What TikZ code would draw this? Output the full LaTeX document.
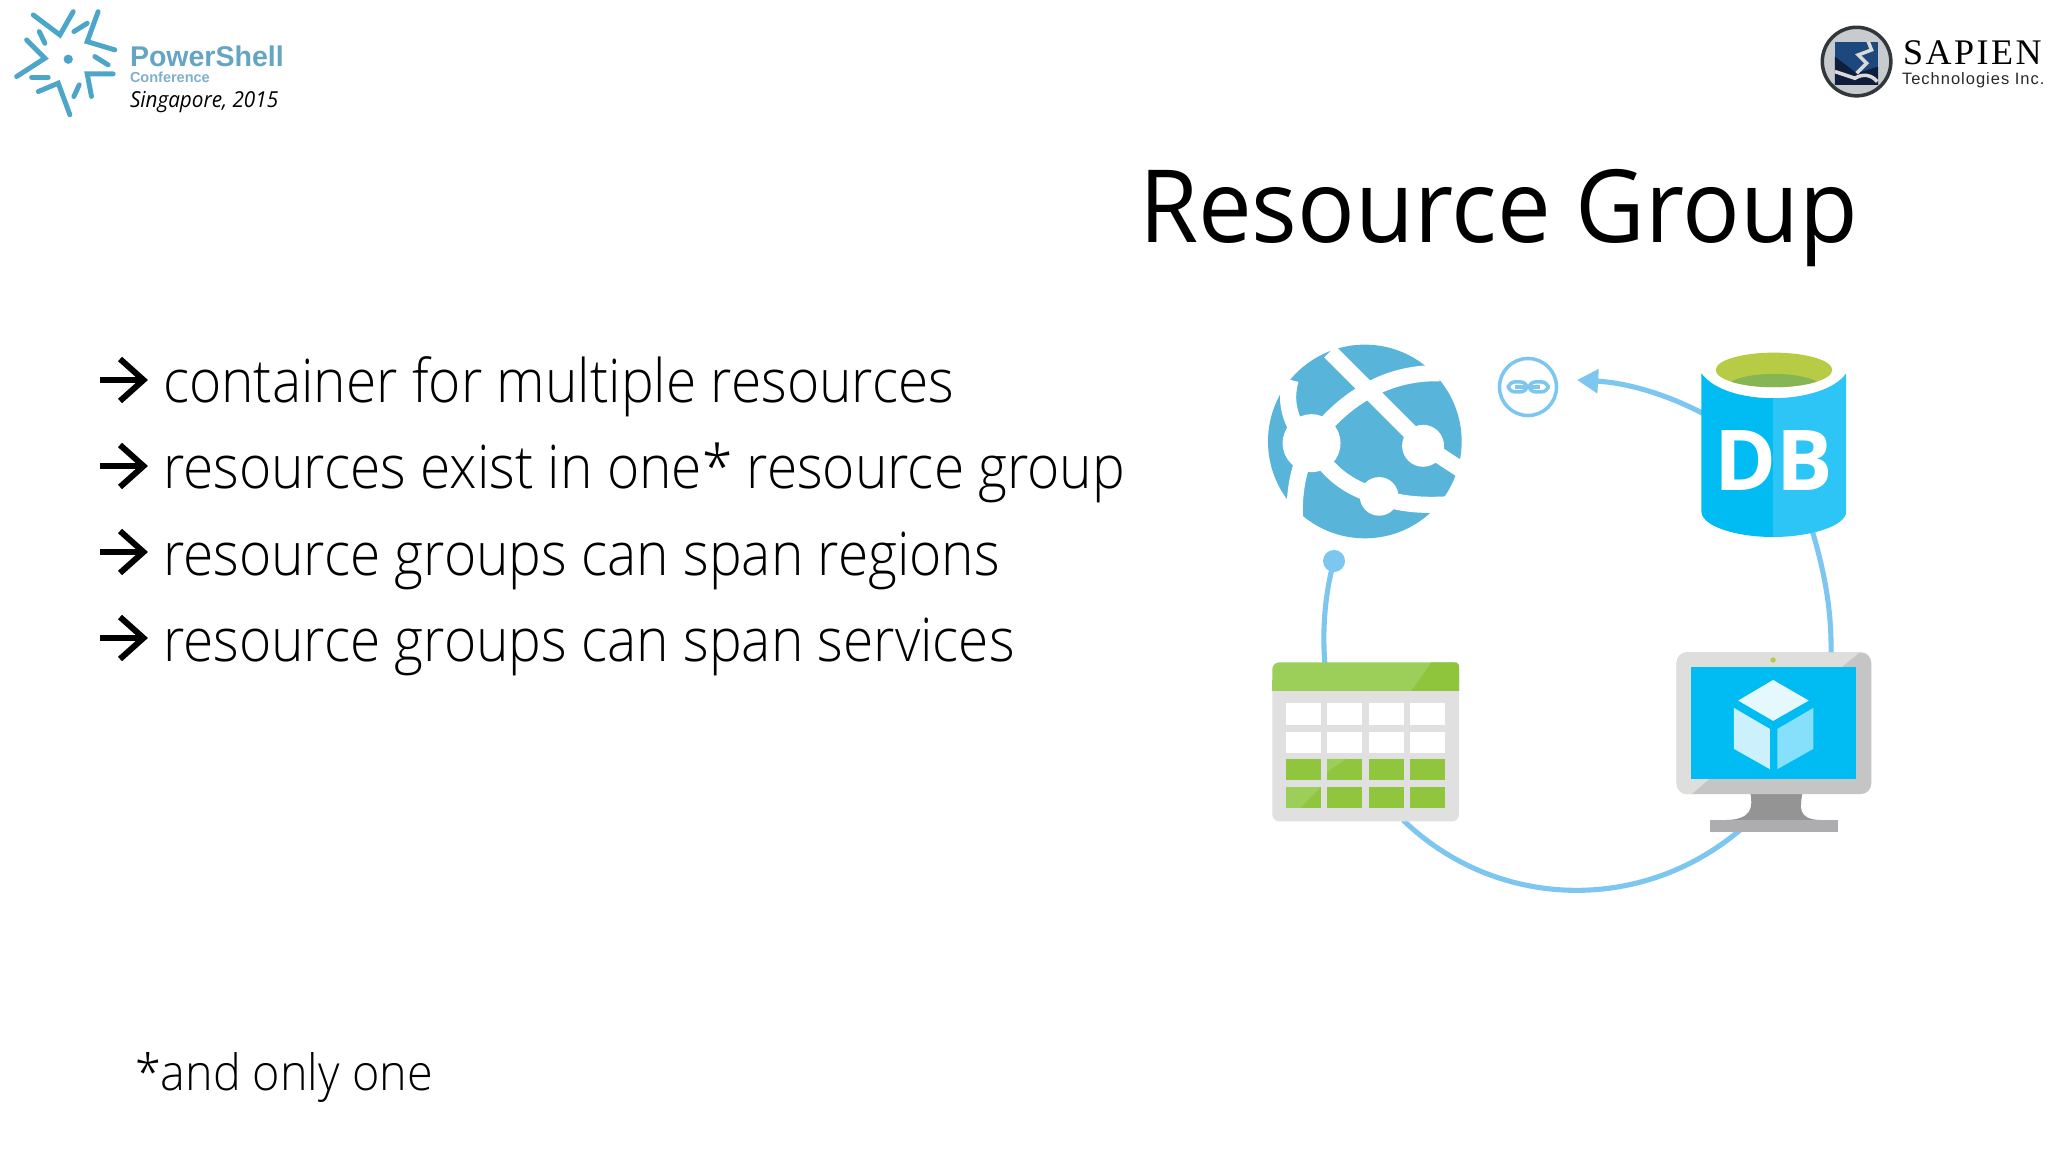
\documentclass[tikz,border=0pt]{standalone}
\usepackage{fontspec}
\usetikzlibrary{arrows.meta}
\setmainfont{Open Sans}
\newfontfamily\lightf{Open Sans Light}[FakeStretch=0.917]
\newfontfamily\footf{Open Sans Light}[FakeStretch=0.934]
\newfontfamily\regf{Open Sans}[FakeStretch=0.948]
\newfontfamily\locf{Open Sans}[FakeStretch=0.94]
\newfontfamily\dbf{Open Sans}
\newfontfamily\arialf{Liberation Sans}
\newfontfamily\serf{Liberation Serif}[LetterSpace=7]
\newfontfamily\techf{Liberation Sans}[LetterSpace=6]
\newcommand{\pxfont}[1]{\fontsize{\the\dimexpr #1pt*2845/10000\relax}{\the\dimexpr #1pt*3/10\relax}\selectfont}
\definecolor{ringc}{HTML}{7CC6F0}
\definecolor{globec}{HTML}{59B4D9}
\definecolor{dbl}{HTML}{00BCF2}
\definecolor{dbr}{HTML}{2CC5F6}
\definecolor{lime}{HTML}{B8CB45}
\definecolor{limed}{HTML}{86B554}
\definecolor{hdrl}{HTML}{9CCE5A}
\definecolor{hdrd}{HTML}{8FC53C}
\definecolor{tbody}{HTML}{E1E0E1}
\definecolor{cellg}{HTML}{8FC63E}
\definecolor{psb}{HTML}{4CA6C8}
\definecolor{mondk}{HTML}{C5C5C5}
\definecolor{monlt}{HTML}{DEDEDD}
\definecolor{neckc}{HTML}{959495}
\definecolor{basec}{HTML}{ADACAE}
\definecolor{cubea}{HTML}{E5F8FE}
\definecolor{cubeb}{HTML}{CDF1FC}
\definecolor{cubec}{HTML}{86DFFB}
\tikzset{
  txt/.style={anchor=base west,inner sep=0pt,outer sep=0pt,text=black},
  ringline/.style={draw=ringc,line width=1.45pt},
  band/.style={draw=white,line width=4.6pt,line cap=butt},
  starline/.style={draw=psb,line width=1.4pt,line cap=round,line join=miter},
  barrow/.style={draw=black,line width=1.7pt,line cap=butt,miter limit=10},
  zoomed/.style={x=0.003333cm,y=-0.003333cm}
}
\begin{document}
\begin{tikzpicture}[x=0.01cm,y=-0.01cm]
\useasboundingbox (0,0) rectangle (2048,1152);
\fill[white] (0,0) rectangle (2048,1152);

% connector end points
\coordinate (tipA) at (1577,380);
\coordinate (dbW) at (1704,414);
\coordinate (dbS) at (1812,530);
\coordinate (vmN) at (1831,655);
\coordinate (vmS) at (1740,830);
\coordinate (tabS) at (1403,820);
\coordinate (tabN) at (1325,665);
\coordinate (dotc) at (1334,561);

% connectors
\draw[ringline,-{Triangle[length=6pt,width=6.6pt]}] (dbW) .. controls (1670,396) and (1630,383) .. (tipA);
\draw[ringline] (dbS) .. controls (1824,570) and (1832,610) .. (vmN);
\draw[ringline] (vmS) .. controls (1641,914) and (1496,910) .. (tabS);
\draw[ringline] (tabN) .. controls (1322,630) and (1325,593) .. (dotc);
\node[circle,fill=ringc,minimum size=0.22cm,inner sep=0pt] (dot) at (dotc) {};

% title and text
\node[txt] (title) at (1139,243) {\regf\pxfont{101}Resource Group};
\node[txt] (b1) at (163,403) {\lightf\pxfont{60}container for multiple resources};
\node[txt] (b2) at (163,489) {\lightf\pxfont{60}resources exist in one* resource group};
\node[txt] (b3) at (163,575) {\lightf\pxfont{60}resource groups can span regions};
\node[txt] (b4) at (163,661) {\lightf\pxfont{60}resource groups can span services};
\node[txt] (foot) at (135,1090) {\footf\pxfont{50}*and only one};

% bullet arrows
\foreach \yy in {380,466,552,638}{
  \draw[barrow] (100,\yy) -- (143,\yy);
  \draw[barrow] (120,\yy-21) -- (143.5,\yy) -- (120,\yy+21);
}

% globe
\begin{scope}[shift={(1250,330)},zoomed]
  \fill[globec] (345,335) circle (291);
  \begin{scope}
    \clip (345,335) circle (293);
    \draw[band] (240,65) -- (520,345) -- (650,430);
    \draw[band] (190,330) .. controls (270,220) and (400,125) .. (570,130);
    \draw[band] (122,150) .. controls (105,210) and (115,270) .. (170,340);
    \draw[band] (180,340) .. controls (150,410) and (130,470) .. (135,580);
    \draw[band] (190,340) .. controls (220,420) and (300,480) .. (388,500);
    \draw[band] (388,500) .. controls (450,525) and (530,530) .. (620,522);
    \fill[white] (185,340) circle (87);
    \fill[white] (520,348) circle (63);
    \fill[white] (388,500) circle (58);
  \end{scope}
\end{scope}
\node[circle,minimum size=0.57cm,inner sep=0pt,draw=ringc,line width=1pt] (link) at (1528,387) {};
\begin{scope}[shift={(1250,330)},zoomed]
  \draw[ringc,line width=1pt,rounded corners=1.9pt] (776,156) rectangle (833,186);
  \draw[ringc,line width=1pt,rounded corners=1.9pt] (838,156) rectangle (896,186);
  \fill[ringc] (797,166) rectangle (872,177);
\end{scope}

% database
\begin{scope}[shift={(1560,330)},zoomed]
  \path[fill=dbl] (425,130) .. controls (460,180) and (550,205) .. (640,205) -- (640,622) .. controls (530,622) and (425,590) .. (425,545) -- cycle;
  \path[fill=dbr] (860,130) .. controls (825,180) and (730,205) .. (640,205) -- (640,622) .. controls (750,622) and (860,590) .. (860,545) -- cycle;
  \fill[lime] (643,120) ellipse (175 and 52);
  \begin{scope}
    \clip (643,120) ellipse (175 and 52);
    \fill[limed] (643,175) ellipse (145 and 43);
  \end{scope}
\end{scope}
\node[anchor=base,inner sep=0pt,text=white] (db) at (1774,491) {\dbf\bfseries\pxfont{84}DB};

% table
\begin{scope}[shift={(1250,640)},zoomed]
  \fill[tbody,rounded corners=2pt] (67,100) rectangle (628,545);
  \fill[hdrl,rounded corners=2pt] (67,67) rectangle (628,153);
  \fill[hdrl] (67,120) rectangle (628,153);
  \fill[hdrd] (628,75) -- (620,67) -- (545,67) -- (485,153) -- (628,153) -- cycle;
  \foreach \xa/\xb in {108/213,232/337,357/462,482/587}{
    \fill[white] (\xa,190) rectangle (\xb,254);
    \fill[white] (\xa,275) rectangle (\xb,339);
    \fill[cellg] (\xa,357) rectangle (\xb,421);
    \fill[cellg] (\xa,442) rectangle (\xb,506);
  }
  \fill[hdrl] (232,421) -- (232,395) -- (290,357) -- (232,357) -- cycle;
  \fill[hdrl] (108,442) rectangle (150,506);
  \fill[hdrl] (150,506) -- (213,442) -- (150,442) -- cycle;
\end{scope}

% monitor
\begin{scope}[shift={(1640,640)},zoomed]
  \fill[neckc] (332,460) .. controls (338,500) and (340,540) .. (255,541) -- (545,541) .. controls (470,540) and (482,500) .. (488,460) -- cycle;
  \fill[basec] (210,541) rectangle (594,577);
  \fill[mondk,rounded corners=3pt] (110,37) rectangle (695,463);
  \begin{scope}
    \clip[rounded corners=3pt] (110,37) rectangle (695,463);
    \fill[monlt] (110,37) -- (660,37) -- (610,78) -- (205,420) -- (155,463) -- (110,463) -- cycle;
  \end{scope}
  \fill[dbl] (153,80) rectangle (650,418);
  \fill[lime] (400,60) circle (8);
  \fill[cubea] (400,120) -- (507,182) -- (400,243) -- (295,182) -- cycle;
  \fill[cubeb] (282,204) -- (390,267) -- (390,388) -- (282,327) -- cycle;
  \fill[cubec] (413,267) -- (521,204) -- (521,327) -- (413,388) -- cycle;
\end{scope}

% PowerShell logo
\begin{scope}[zoomed]
  \draw[starline] (100,45) -- (180,105) -- (220,35);
  \draw[starline] (222,95) -- (262,70);
  \draw[starline] (295,35) -- (262,125) -- (345,150);
  \draw[starline] (118,95) -- (135,130);
  \draw[starline] (80,120) -- (135,175) -- (50,230);
  \fill[psb] (205,178) circle (14);
  \draw[starline] (285,170) -- (325,195);
  \draw[starline] (95,232) -- (145,232);
  \draw[starline] (340,222) -- (262,222) -- (275,290);
  \draw[starline] (238,255) -- (222,290);
  \draw[starline] (115,275) -- (175,250) -- (210,345);
\end{scope}
\node[txt,text={rgb,255:red,100;green,165;blue,195}] (psname) at (130,67) {\arialf\bfseries\pxfont{28.5}PowerShell};
\node[txt,text={rgb,255:red,127;green,176;blue,204}] (psconf) at (130,83) {\arialf\bfseries\pxfont{14.5}Conference};
\node[txt] (psloc) at (130,108) {\locf\itshape\pxfont{22}Singapore, 2015};

% SAPIEN logo
\begin{scope}[shift={(1800,10)},zoomed]
  \fill[fill={rgb,255:red,200;green,203;blue,206},draw={rgb,255:red,50;green,55;blue,60},line width=1pt] (170,155) circle (103);
  \fill[fill={rgb,255:red,28;green,72;blue,125}] (105,95) rectangle (235,225);
  \fill[fill={rgb,255:red,15;green,30;blue,60}] (105,140) -- (170,190) -- (235,170) -- (235,225) -- (105,225) -- cycle;
  \draw[white!85!black,line width=1pt] (205,95) -- (215,120) -- (175,135) -- (200,160) -- (170,190);
  \draw[white!85!black,line width=1pt] (105,185) -- (165,205) .. controls (190,190) and (215,195) .. (232,215);
\end{scope}
\node[txt] (sapien) at (1903,65) {\serf\pxfont{36}SAPIEN};
\node[txt,text={rgb,255:red,40;green,40;blue,40}] (sapient) at (1902,85) {\techf\pxfont{16.5}Technologies Inc.};
\end{tikzpicture}
\end{document}
